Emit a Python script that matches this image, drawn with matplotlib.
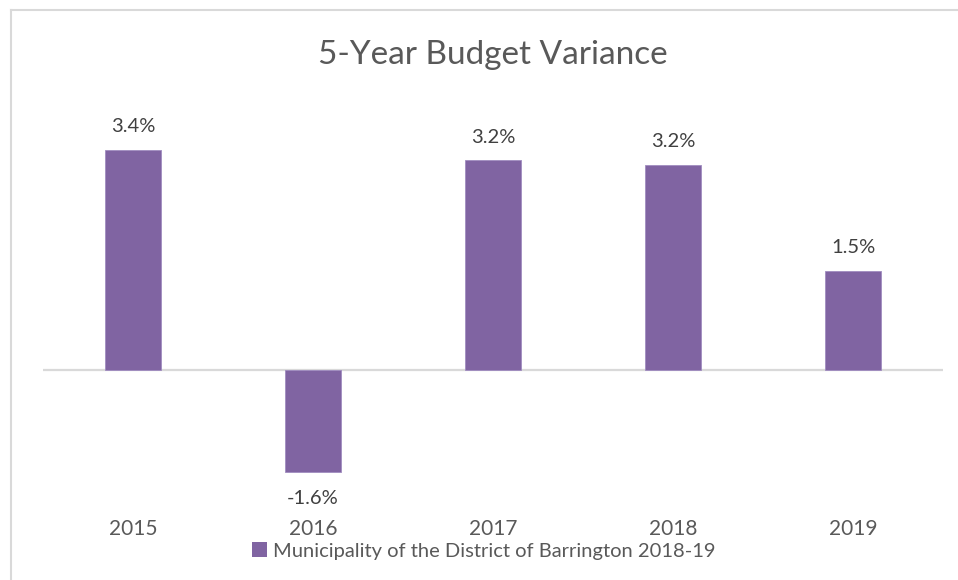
import matplotlib.pyplot as plt
from matplotlib.patches import Patch

years = ["2015", "2016", "2017", "2018", "2019"]
variance = [3.4, -1.58, 3.24, 3.17, 1.53]
series_name = "Municipality of the District of Barrington 2018-19"

BAR = "#8064A2"
TEXT = "#595959"
GRID = "#D9D9D9"

plt.rcParams["font.family"] = ["Lato", "DejaVu Sans"]

W, H = 958, 580
fig = plt.figure(figsize=(W / 100, H / 100), dpi=100)

# axes placed in pixel terms: x 43..943, y 100..516 (top-down)
left, right, top, bottom = 43, 943, 100, 516
ax = fig.add_axes([left / W, 1 - bottom / H, (right - left) / W, (bottom - top) / H])

x = range(len(years))
ax.bar(x, variance, width=0.31, color=BAR, edgecolor="#A08CC0", linewidth=0.6, zorder=2)
ax.axhline(0, color=GRID, lw=1.6, zorder=1)

scale = 64.7  # px per percentage point
zero_px = 370
ax.set_ylim(-(bottom - zero_px) / scale, (zero_px - top) / scale)
ax.set_xlim(-0.5, len(years) - 0.5)

for i, v in enumerate(variance):
    off = 0.36 if v >= 0 else -0.40
    ax.text(i, v + off, f"{v:.1f}%", ha="center", va="center",
            fontsize=14.5, color="#404040")

ax.set_xticks(list(x))
ax.set_xticklabels(years, fontsize=15, color=TEXT)
ax.tick_params(axis="x", length=0, pad=2)
ax.set_yticks([])
for s in ax.spines.values():
    s.set_visible(False)

fig.text(0.5 * (left + right) / W, 1 - 55 / H, "5-Year Budget Variance",
         ha="center", va="center", fontsize=24, color=TEXT)

fig.legend(handles=[Patch(facecolor=BAR, label=series_name)],
           loc="center", bbox_to_anchor=(484 / W, 1 - 551 / H),
           frameon=False, fontsize=14.5, labelcolor=TEXT,
           handlelength=0.75, handleheight=0.75, handletextpad=0.3,
           borderpad=0.2)

# light chart border along the top and left edges
fig.add_artist(plt.Line2D([11 / W, 11 / W], [0, 1 - 10 / H], color=GRID, lw=1.5))
fig.add_artist(plt.Line2D([11 / W, 1], [1 - 10 / H, 1 - 10 / H], color=GRID, lw=1.5))

fig.savefig("out.png", dpi=100, facecolor="white")
